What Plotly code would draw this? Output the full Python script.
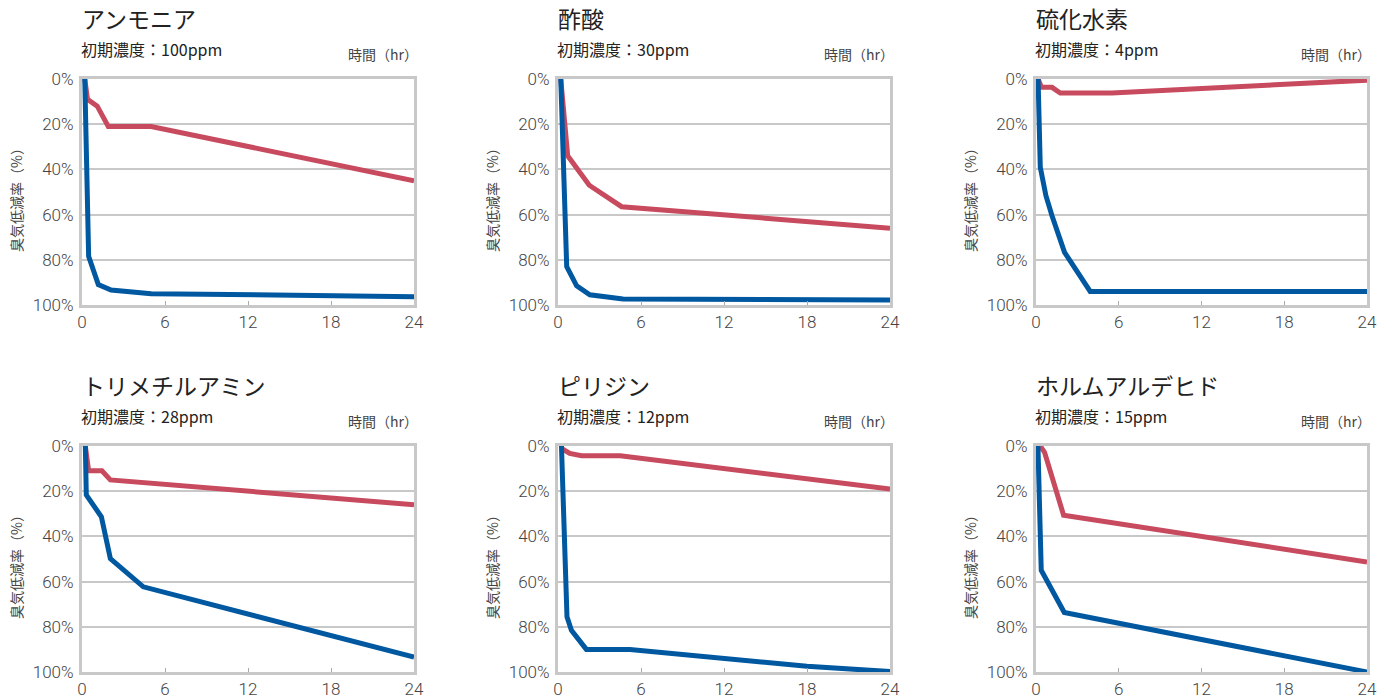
import plotly.graph_objects as go

# ---- data ----
titles = ["アンモニア", "酢酸", "硫化水素", "トリメチルアミン", "ピリジン", "ホルムアルデヒド"]
concentrations = ["100ppm", "30ppm", "4ppm", "28ppm", "12ppm", "15ppm"]
x_ticks = [0, 6, 12, 18, 24]
y_ticks = [0, 20, 40, 60, 80, 100]
y_tick_labels = ["0%", "20%", "40%", "60%", "80%", "100%"]

# red series (hours, reduction %)
red_x_ammonia = [0.2, 0.4, 1.1, 1.9, 5.0, 24]
red_y_ammonia = [0, 9, 12, 21, 21, 45]
blue_x_ammonia = [0.2, 0.48, 1.18, 2.1, 5.0, 24]
blue_y_ammonia = [0, 78.5, 91, 93.4, 95, 96.3]

red_x_acetic = [0.2, 0.7, 2.26, 4.6, 24]
red_y_acetic = [0, 34, 47, 56.5, 66]
blue_x_acetic = [0.2, 0.63, 1.35, 2.3, 4.7, 24]
blue_y_acetic = [0, 83, 91.5, 95.5, 97.3, 97.8]

red_x_h2s = [0.15, 0.4, 1.16, 1.76, 5.5, 24]
red_y_h2s = [0, 3.7, 3.7, 6.2, 6.2, 0.5]
blue_x_h2s = [0.15, 0.31, 0.72, 1.16, 2.07, 3.93, 24]
blue_y_h2s = [0, 39, 51.6, 60.5, 76.7, 94, 94]

red_x_tma = [0.24, 0.48, 1.44, 2.05, 24]
red_y_tma = [0, 11, 11, 15, 26]
blue_x_tma = [0.24, 0.31, 1.4, 2.05, 4.43, 24]
blue_y_tma = [0, 21.7, 31.3, 49.8, 62.3, 93.4]

red_x_pyridine = [0.25, 0.85, 1.7, 4.5, 24]
red_y_pyridine = [1, 3.3, 4.3, 4.3, 19]
blue_x_pyridine = [0.25, 0.65, 0.97, 2.05, 5.2, 18, 24]
blue_y_pyridine = [0, 75.6, 81.5, 90, 90, 97.5, 99.8]

red_x_formaldehyde = [0.31, 0.62, 2.0, 24]
red_y_formaldehyde = [0, 2.8, 30.6, 51.3]
blue_x_formaldehyde = [0.14, 0.38, 2.05, 24]
blue_y_formaldehyde = [0, 55, 73.7, 100]

red_series = [(red_x_ammonia, red_y_ammonia), (red_x_acetic, red_y_acetic), (red_x_h2s, red_y_h2s),
              (red_x_tma, red_y_tma), (red_x_pyridine, red_y_pyridine), (red_x_formaldehyde, red_y_formaldehyde)]
blue_series = [(blue_x_ammonia, blue_y_ammonia), (blue_x_acetic, blue_y_acetic), (blue_x_h2s, blue_y_h2s),
               (blue_x_tma, blue_y_tma), (blue_x_pyridine, blue_y_pyridine), (blue_x_formaldehyde, blue_y_formaldehyde)]

# ---- layout ----
W, H = 1391, 700
RED = "#C84A5E"
BLUE = "#0058A0"
GRID = "#C8C8C8"
JP = "Noto Sans CJK JP"
NUM = "Roboto"

col_px = [(82, 414), (558, 890), (1036, 1367)]
row_px = [(79, 305), (446, 672)]

fig = go.Figure()
annotations = []

for i in range(6):
    r, c = divmod(i, 3)
    x0, x1 = col_px[c]
    yt, yb = row_px[r]
    n = i + 1
    xa = "x" if n == 1 else f"x{n}"
    ya = "y" if n == 1 else f"y{n}"

    for (xs, ys), color in ((red_series[i], RED), (blue_series[i], BLUE)):
        fig.add_trace(go.Scatter(x=xs, y=ys, mode="lines", xaxis=xa, yaxis=ya,
                                 line=dict(color=color, width=5), showlegend=False,
                                 hoverinfo="skip", cliponaxis=True))

    fig.layout[f"xaxis{'' if n == 1 else n}"] = dict(
        domain=[x0 / W, x1 / W], range=[0, 24], anchor=ya, automargin=False,
        tickvals=x_ticks, ticks="inside", ticklen=4, tickwidth=1, tickcolor="#AAAAAA",
        showgrid=False, zeroline=False, showline=True, mirror=True,
        linecolor=GRID, linewidth=3,
        tickfont=dict(family=NUM, size=17, color="#444444", weight=300),
        ticklabelstandoff=0,
        fixedrange=True,
    )
    fig.layout[f"yaxis{'' if n == 1 else n}"] = dict(
        domain=[1 - yb / H, 1 - yt / H], range=[100, 0], anchor=xa, automargin=False,
        tickvals=y_ticks, ticktext=y_tick_labels, ticks="",
        showgrid=True, gridcolor=GRID, gridwidth=2, zeroline=False,
        showline=True, mirror=True, linecolor=GRID, linewidth=3,
        tickfont=dict(family=NUM, size=17, color="#444444", weight=300),
        ticklabelstandoff=2,
        fixedrange=True,
    )

    # title
    annotations.append(dict(text=titles[i], x=(x0 - 2) / W, y=1 - 18 / H - (yt - 79) / H,
                             xref="paper", yref="paper", xanchor="left", yanchor="middle",
                             showarrow=False, font=dict(family=JP, size=23, color="#222222")))
    # concentration
    annotations.append(dict(text="初期濃度：" + concentrations[i], x=(x0 - 3) / W,
                             y=1 - 49 / H - (yt - 79) / H,
                             xref="paper", yref="paper", xanchor="left", yanchor="middle",
                             showarrow=False, font=dict(family=JP, size=16, color="#222222")))
    # time unit
    annotations.append(dict(text="時間（hr）", x=(x1 + 6) / W, y=1 - 54 / H - (yt - 79) / H,
                             xref="paper", yref="paper", xanchor="right", yanchor="middle",
                             showarrow=False, font=dict(family=JP, size=14, color="#444444")))
    # y axis title
    annotations.append(dict(text="臭気低減率（%）", x=(x0 - 66) / W, y=1 - ((yt + yb) / 2 + 5) / H,
                             xref="paper", yref="paper", xanchor="center", yanchor="middle",
                             textangle=-90, showarrow=False,
                             font=dict(family=JP, size=14, color="#444444")))

fig.update_layout(width=W, height=H, margin=dict(l=0, r=0, t=0, b=0, autoexpand=False),
                  paper_bgcolor="white", plot_bgcolor="white",
                  annotations=annotations)

fig.write_html("out.html", config={"displayModeBar": False},
               post_script="document.body.style.margin='0';document.body.style.overflow='hidden';")
